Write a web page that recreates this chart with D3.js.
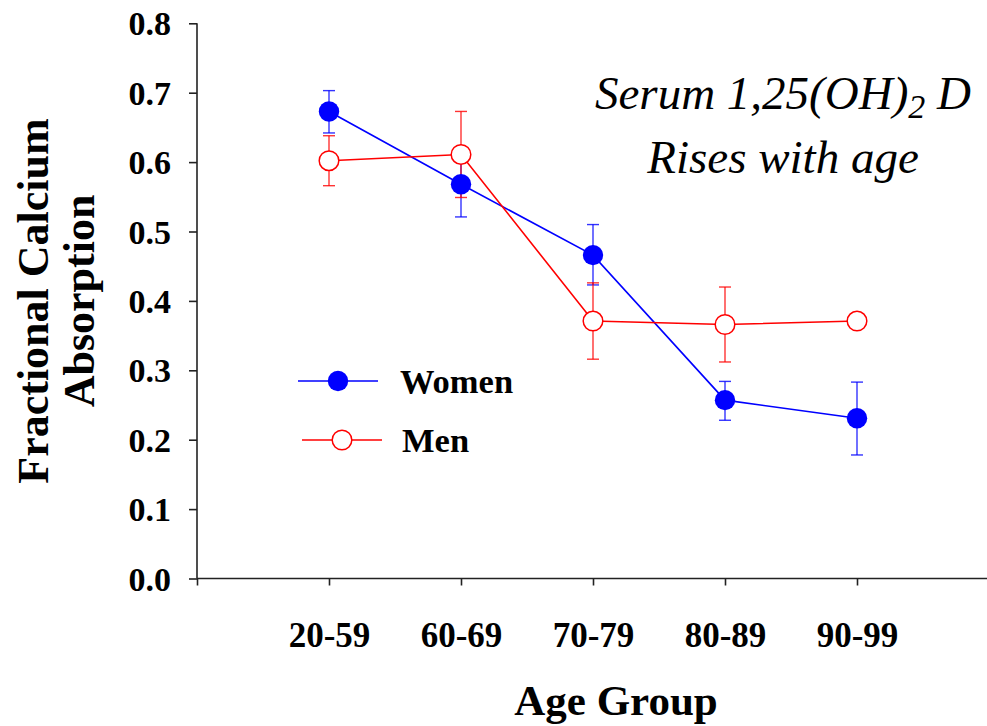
<!DOCTYPE html>
<html><head><meta charset="utf-8">
<script src="https://cdn.jsdelivr.net/npm/d3@7"></script>
<style>body{margin:0;background:#fff}svg{display:block}text{font-family:"Liberation Serif","Times New Roman",serif}</style>
</head><body><svg id="c" width="987" height="726"></svg>
<script>
const categories = ["20-59","60-69","70-79","80-89","90-99"];
const yTicks = [0,0.1,0.2,0.3,0.4,0.5,0.6,0.7,0.8];
const womenMean = [0.673,0.568,0.466,0.257,0.231];
const womenUpper = [0.703,0.616,0.510,0.284,0.283];
const womenLower = [0.642,0.521,0.423,0.228,0.178];
const menMean = [0.602,0.611,0.371,0.366,0.371];
const menUpper = [0.638,0.673,0.426,0.420,null];
const menLower = [0.566,0.549,0.316,0.312,null];

const svg = d3.select("#c");
const x = d3.scaleLinear().domain([0,6]).range([197,989]);
const y = d3.scaleLinear().domain([0,0.8]).range([578.5,23.3]);

// axes
const yAxis = svg.append("g").attr("transform","translate(197,0)")
  .call(d3.axisLeft(y).tickValues(yTicks).tickFormat(d3.format(".1f")).tickSize(8).tickPadding(18));
yAxis.select(".domain").attr("d",`M0,${y(0.8)}V${y(0)}`);
yAxis.selectAll("path,line").attr("stroke","#222").attr("stroke-width",1.6);
yAxis.selectAll("text").attr("font-size",34).attr("font-weight","bold").attr("fill","#000")
  .attr("font-family","Liberation Serif").attr("dy","0.34em");

const xAxis = svg.append("g").attr("transform",`translate(0,${y(0)})`)
  .call(d3.axisBottom(x).tickValues([0,1,2,3,4,5,6]).tickFormat(d => d>=1&&d<=5 ? categories[d-1] : "").tickSize(7).tickPadding(38));
xAxis.select(".domain").attr("d",`M197,0H989`);
xAxis.selectAll("path,line").attr("stroke","#222").attr("stroke-width",1.6);
xAxis.selectAll("text").attr("font-size",35).attr("font-weight","bold").attr("fill","#000")
  .attr("font-family","Liberation Serif").attr("dy","0.68em");

// axis titles
svg.append("text").attr("x",616).attr("y",715).attr("text-anchor","middle")
  .attr("font-size",43).attr("font-weight","bold").text("Age Group");
const yt = svg.append("g").attr("transform","translate(0,301) rotate(-90)");
yt.append("text").attr("x",0).attr("y",48).attr("text-anchor","middle")
  .attr("font-size",44).attr("font-weight","bold").text("Fractional Calcium");
yt.append("text").attr("x",0).attr("y",94).attr("text-anchor","middle")
  .attr("font-size",44).attr("font-weight","bold").text("Absorption");

// annotation
const ann = svg.append("text").attr("x",783).attr("y",109).attr("text-anchor","middle")
  .attr("font-size",47).attr("font-style","italic");
ann.append("tspan").text("Serum 1,25(OH)");
ann.append("tspan").attr("font-size",34).attr("dy",9).text("2");
ann.append("tspan").attr("dy",-9).text(" D");
svg.append("text").attr("x",783).attr("y",173).attr("text-anchor","middle")
  .attr("font-size",47).attr("font-style","italic").text("Rises with age");

function drawSeries(mean, up, lo, color){
  const pts = mean.map((v,i)=>({i:i+1,v,up:up[i],lo:lo[i]}));
  svg.append("path").datum(pts).attr("fill","none").attr("stroke",color).attr("stroke-width",1.6)
    .attr("d",d3.line().x(d=>x(d.i)).y(d=>y(d.v)));
  const eb = svg.append("g").attr("stroke",color).attr("stroke-width",1.4).attr("stroke-opacity",0.8);
  pts.filter(d=>d.up!=null).forEach(d=>{
    eb.append("line").attr("x1",x(d.i)).attr("x2",x(d.i)).attr("y1",y(d.up)).attr("y2",y(d.lo));
    eb.append("line").attr("x1",x(d.i)-6).attr("x2",x(d.i)+6).attr("y1",y(d.up)).attr("y2",y(d.up));
    eb.append("line").attr("x1",x(d.i)-6).attr("x2",x(d.i)+6).attr("y1",y(d.lo)).attr("y2",y(d.lo));
  });
  return pts;
}
const wp = drawSeries(womenMean,womenUpper,womenLower,"#0000ff");
const mp = drawSeries(menMean,menUpper,menLower,"#ff0000");
svg.append("g").selectAll("circle").data(mp).join("circle")
  .attr("cx",d=>x(d.i)).attr("cy",d=>y(d.v)).attr("r",9.8)
  .attr("fill","#fff").attr("stroke","#ff0000").attr("stroke-width",1.5);
svg.append("g").selectAll("circle").data(wp).join("circle")
  .attr("cx",d=>x(d.i)).attr("cy",d=>y(d.v)).attr("r",10.2).attr("fill","#0000ff");

// legend
const lg = svg.append("g");
lg.append("line").attr("x1",298).attr("x2",378).attr("y1",381).attr("y2",381).attr("stroke","#0000ff").attr("stroke-width",1.6);
lg.append("circle").attr("cx",338).attr("cy",381).attr("r",10.2).attr("fill","#0000ff");
lg.append("text").attr("x",400).attr("y",393).attr("font-size",34.5).attr("font-weight","bold").text("Women");
lg.append("line").attr("x1",302).attr("x2",382).attr("y1",440).attr("y2",440).attr("stroke","#ff0000").attr("stroke-width",1.6);
lg.append("circle").attr("cx",342).attr("cy",440).attr("r",9.8).attr("fill","#fff").attr("stroke","#ff0000").attr("stroke-width",1.5);
lg.append("text").attr("x",402).attr("y",452).attr("font-size",34.5).attr("font-weight","bold").text("Men");
</script></body></html>
